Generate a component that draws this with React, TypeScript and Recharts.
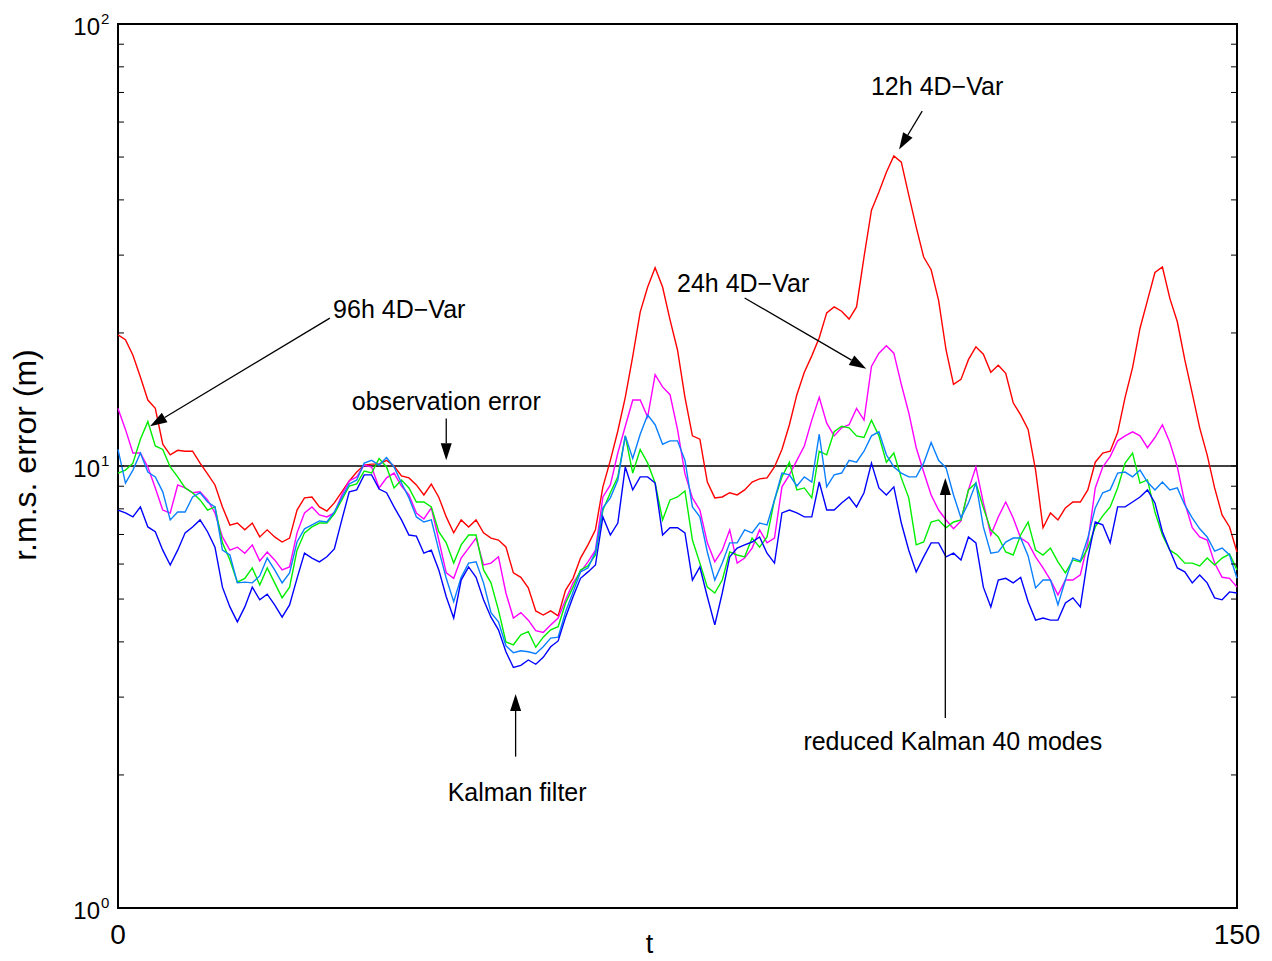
import React from 'react';
import {
  LineChart,
  Line,
  XAxis,
  YAxis,
  ReferenceLine,
  ReferenceDot,
  ReferenceArea
} from 'recharts';

const FONT = '"Liberation Sans", Arial, Helvetica, sans-serif';

// time axis: one sample per unit of t
const T_STEPS = Array.from({ length: 151 }, (_, i) => i);

// r.m.s. error (m) per scheme
const RMS_4DVAR_12H = [
  19.8, 19.3, 17.8, 15.9, 14.1, 13.5, 11.2, 10.6, 10.85, 10.8,
  10.8, 10.15, 9.6, 9.06, 8.08, 7.35, 7.43, 7.17, 7.43, 6.91,
  7.17, 6.91, 6.73, 6.87, 7.95, 8.47, 8.51, 8.08, 7.91, 8.25,
  8.74, 9.25, 9.69, 10.05, 10.1, 10.1, 10.3, 10.0, 9.5, 9.4,
  9.06, 8.6, 9.1, 8.5, 7.67, 7.06, 7.55, 7.28, 7.55, 7.06,
  6.87, 6.8, 6.56, 5.73, 5.6, 5.3, 4.7, 4.6, 4.7, 4.58,
  5.24, 5.57, 6.19, 6.63, 7.17, 8.97, 10.3, 12.0, 14.3, 17.7,
  22.3, 25.4, 28.1, 25.4, 21.4, 18.3, 14.3, 11.7, 11.5, 9.2,
  8.47, 8.51, 8.7, 8.6, 8.83, 9.2, 9.35, 9.4, 9.95, 10.9,
  12.4, 14.5, 16.3, 17.75, 19.5, 22.2, 22.9, 22.4, 21.5, 22.9,
  29.7, 37.9, 41.7, 46.2, 50.3, 48.7, 41.0, 34.7, 29.7, 27.8,
  23.7, 18.3, 15.3, 15.7, 17.4, 18.6, 17.9, 16.3, 16.9, 16.2,
  13.9, 13.05, 12.1, 9.79, 7.25, 7.83, 7.55, 8.04, 8.29, 8.29,
  8.83, 10.2, 10.7, 10.8, 11.9, 14.3, 16.7, 20.5, 23.7, 27.4,
  28.2, 23.95, 21.2, 17.4, 14.6, 12.2, 10.6, 8.92, 7.75, 7.28,
  6.39
];

const RMS_4DVAR_24H = [
  13.5, 12.1, 10.7, 10.7, 9.95, 8.92, 7.95, 7.83, 9.06, 8.92,
  8.7, 8.74, 8.38, 7.83, 6.91, 6.45, 6.55, 6.35, 6.63, 6.1,
  6.39, 6.13, 5.82, 5.91, 7.06, 7.83, 8.08, 7.75, 7.67, 7.83,
  8.6, 9.25, 9.45, 10.05, 9.95, 8.92, 9.4, 9.64, 9.01, 8.6,
  7.83, 7.59, 8.04, 6.8, 5.73, 5.57, 6.19, 6.52, 6.87, 5.97,
  6.03, 6.23, 5.16, 4.53, 4.66, 4.48, 4.24, 4.2, 4.37, 4.53,
  4.98, 5.44, 5.76, 6.07, 6.45, 8.51, 9.06, 10.7, 12.3, 14.1,
  14.1, 12.9, 16.1, 15.1, 14.5, 12.1, 9.6, 8.47, 7.95, 6.7,
  6.07, 6.45, 7.17, 6.03, 6.19, 6.52, 7.17, 6.7, 6.87, 8.97,
  9.55, 10.3, 11.1, 12.7, 14.3, 12.5, 11.7, 12.2, 12.4, 13.5,
  12.7, 16.8, 18.0, 18.7, 18.0, 15.3, 13.2, 11.0, 9.69, 8.6,
  7.95, 7.55, 7.21, 7.51, 8.83, 9.95, 8.25, 6.98, 7.67, 8.29,
  7.63, 6.87, 6.7, 6.23, 5.88, 5.52, 5.11, 5.52, 5.52, 5.67,
  6.7, 8.92, 9.95, 10.5, 11.4, 11.7, 11.95, 11.7, 11.0, 11.6,
  12.4, 11.3, 9.95, 8.25, 7.25, 6.91, 6.8, 6.03, 5.6, 5.57,
  5.32
];

const RMS_4DVAR_96H = [
  9.64, 9.79, 10.15, 11.5, 12.6, 11.1, 10.9, 9.95, 9.45, 8.92,
  8.7, 8.38, 7.95, 8.08, 6.7, 6.13, 5.46, 5.57, 5.88, 5.38,
  5.88, 5.44, 5.03, 5.32, 6.45, 7.06, 7.28, 7.43, 7.43, 7.79,
  8.38, 9.01, 9.11, 9.74, 9.64, 10.4, 9.95, 8.92, 9.3, 8.92,
  8.29, 8.29, 8.08, 7.1, 6.7, 6.03, 6.63, 6.98, 6.98, 5.82,
  5.44, 4.72, 4.0, 3.94, 4.15, 4.22, 3.89, 4.1, 4.26, 4.33,
  4.9, 5.32, 5.82, 5.94, 6.29, 7.95, 8.7, 9.45, 11.7, 9.64,
  10.9, 10.15, 9.15, 7.55, 8.38, 8.51, 8.78, 6.8, 6.03, 5.32,
  5.16, 5.52, 6.39, 6.29, 6.23, 6.87, 6.55, 6.91, 8.38, 9.45,
  10.2, 8.83, 8.92, 8.47, 10.8, 10.6, 11.95, 12.3, 12.2, 11.7,
  11.6, 12.7, 11.7, 10.2, 10.7, 9.4, 8.47, 6.63, 6.73, 7.47,
  7.55, 7.25, 7.47, 7.55, 8.83, 9.15, 8.04, 7.17, 6.91, 6.39,
  6.29, 6.98, 7.47, 6.45, 6.29, 6.52, 6.07, 5.73, 6.13, 6.07,
  6.52, 7.28, 7.71, 8.08, 8.92, 10.15, 10.7, 9.15, 9.3, 7.87,
  6.98, 6.45, 6.29, 6.03, 6.03, 5.94, 6.19, 5.97, 6.19, 6.32,
  5.82
];

const RMS_REDUCED_KF = [
  10.9, 9.15, 9.79, 10.7, 9.69, 9.45, 8.74, 7.55, 7.87, 7.87,
  8.51, 8.7, 8.29, 8.08, 6.45, 6.29, 5.44, 5.46, 5.44, 5.64,
  6.19, 5.82, 5.44, 5.73, 6.73, 7.21, 7.36, 7.51, 7.47, 7.87,
  8.47, 9.11, 9.3, 10.15, 10.3, 10.05, 10.45, 9.95, 9.15, 8.47,
  7.67, 7.47, 7.55, 6.45, 5.57, 4.93, 5.6, 6.03, 6.07, 5.44,
  4.66, 4.44, 3.92, 3.78, 3.82, 3.8, 3.76, 3.9, 4.08, 4.1,
  4.68, 5.19, 5.76, 5.88, 6.39, 8.04, 8.47, 9.3, 11.7, 10.4,
  11.8, 13.05, 12.4, 11.2, 11.4, 11.4, 10.3, 8.08, 7.67, 6.39,
  5.52, 6.03, 6.7, 6.7, 7.17, 7.06, 7.43, 7.36, 8.38, 9.64,
  9.55, 9.01, 9.45, 9.2, 11.8, 8.97, 9.55, 9.64, 10.3, 10.2,
  10.8, 11.7, 11.95, 10.6, 9.95, 9.64, 9.45, 9.45, 10.15, 11.3,
  10.3, 9.9, 8.6, 7.63, 8.25, 9.15, 7.28, 6.35, 6.39, 6.73,
  6.87, 6.87, 6.26, 5.3, 5.52, 5.52, 4.85, 5.52, 6.19, 6.1,
  6.87, 8.04, 8.7, 8.83, 9.64, 9.69, 9.45, 9.79, 9.2, 8.83,
  9.2, 8.83, 8.92, 8.16, 7.63, 7.21, 6.91, 6.42, 6.52, 6.29,
  5.57
];

const RMS_KALMAN = [
  7.95, 7.83, 7.67, 8.08, 7.28, 7.1, 6.45, 5.97, 6.45, 7.06,
  7.28, 7.55, 7.1, 6.55, 5.32, 4.8, 4.44, 4.8, 5.32, 4.98,
  5.13, 4.85, 4.55, 4.85, 5.57, 6.35, 6.19, 6.07, 6.23, 6.49,
  7.55, 8.74, 8.83, 9.55, 9.55, 8.87, 8.7, 8.08, 7.55, 6.98,
  6.94, 6.35, 6.45, 5.82, 5.06, 4.53, 5.52, 5.91, 5.6, 4.98,
  4.55, 4.26, 3.8, 3.5, 3.54, 3.64, 3.56, 3.69, 3.9, 4.02,
  4.55, 5.06, 5.57, 5.76, 5.97, 7.67, 6.98, 7.43, 9.95, 8.83,
  9.45, 9.45, 9.15, 6.98, 7.25, 7.25, 7.06, 5.52, 5.91, 5.06,
  4.37, 5.16, 6.23, 6.52, 6.63, 6.73, 6.91, 6.35, 6.03, 7.83,
  7.95, 7.83, 7.67, 7.67, 9.2, 7.95, 7.95, 8.25, 8.51, 8.08,
  8.7, 10.15, 8.92, 8.6, 8.97, 7.43, 6.45, 5.76, 6.23, 6.7,
  6.7, 6.23, 6.35, 6.13, 6.91, 6.7, 5.32, 4.8, 5.52, 5.57,
  5.44, 5.6, 4.93, 4.48, 4.53, 4.48, 4.48, 4.9, 5.03, 4.8,
  6.19, 7.47, 7.36, 6.7, 8.08, 8.08, 8.29, 8.51, 8.83, 8.25,
  7.1, 6.45, 5.88, 5.76, 5.44, 5.67, 5.44, 5.03, 4.98, 5.19,
  5.16
];

const OBS_ERROR = 10;

const X_TICKS = [0, 150];
const Y_TICKS = [1, 2, 3, 4, 5, 6, 7, 8, 9, 10, 20, 30, 40, 50, 60, 70, 80, 90, 100];

const SERIES = [
  { key: 'h12', color: '#ff0000' },
  { key: 'h24', color: '#ff00ff' },
  { key: 'h96', color: '#00ee00' },
  { key: 'rkf', color: '#0a80ff' },
  { key: 'kf', color: '#0000ff' }
];

// annotation text placed at `at`, arrow drawn from `from` to `to` (t, rms)
const NOTES = [
  { text: '12h 4D\u2212Var', at: [109.8, 72.5], from: [107.8, 63.5], to: [104.7, 52] },
  { text: '24h 4D\u2212Var', at: [83.8, 25.9], from: [84.0, 24.0], to: [100.3, 16.6] },
  { text: '96h 4D\u2212Var', at: [37.7, 22.7], from: [28.4, 21.6], to: [4.3, 12.3] },
  { text: 'observation error', at: [44.0, 14.0], from: [44.0, 12.8], to: [44.0, 10.3] },
  { text: 'Kalman filter', at: [53.5, 1.83], from: [53.3, 2.2], to: [53.3, 3.05] },
  { text: 'reduced Kalman 40 modes', at: [111.9, 2.39], from: [110.9, 2.69], to: [110.9, 9.4] }
];

const rows = T_STEPS.map((t, i) => ({
  t,
  h12: RMS_4DVAR_12H[i],
  h24: RMS_4DVAR_24H[i],
  h96: RMS_4DVAR_96H[i],
  rkf: RMS_REDUCED_KF[i],
  kf: RMS_KALMAN[i]
}));

const isDecade = (v: number) => Math.abs(Math.log10(v) - Math.round(Math.log10(v))) < 1e-9;

const LeftTick = ({ x, y, payload }: any) => {
  const v = payload.value;
  return (
    <g>
      <line x1={x} y1={y} x2={x + 6} y2={y} stroke="#000" strokeWidth={1} />
      {isDecade(v) && (
        <>
          <text x={x - 18} y={y + 11} textAnchor="end" fontSize={24} fontFamily={FONT} fill="#000">
            10
          </text>
          <text x={x - 17} y={y} textAnchor="start" fontSize={15} fontFamily={FONT} fill="#000">
            {Math.round(Math.log10(v))}
          </text>
        </>
      )}
    </g>
  );
};

const RightTick = ({ x, y }: any) => (
  <line x1={x} y1={y} x2={x - 6} y2={y} stroke="#000" strokeWidth={1} />
);

const BottomTick = ({ x, y, payload }: any) => (
  <text x={x} y={y + 36} textAnchor="middle" fontSize={28} fontFamily={FONT} fill="#000">
    {payload.value}
  </text>
);

// straight line with a filled arrowhead at (x2, y2)
const Arrow = ({ x1, y1, x2, y2 }: any) => {
  const dx = x2 - x1;
  const dy = y2 - y1;
  const len = Math.hypot(dx, dy) || 1;
  const ux = dx / len;
  const uy = dy / len;
  const head = 17;
  const half = 5.5;
  const bx = x2 - ux * head;
  const by = y2 - uy * head;
  const pts = `${x2},${y2} ${bx - uy * half},${by + ux * half} ${bx + uy * half},${by - ux * half}`;
  return (
    <g>
      <line x1={x1} y1={y1} x2={bx} y2={by} stroke="#000" strokeWidth={1.3} />
      <polygon points={pts} fill="#000" />
    </g>
  );
};

const NoteText = (text: string) => (p: any) => (
  <text
    x={p.cx}
    y={p.cy}
    textAnchor="middle"
    dominantBaseline="central"
    fontSize={25}
    fontFamily={FONT}
    fill="#000"
  >
    {text}
  </text>
);

export default function App() {
  return (
    <div style={{ position: 'absolute', left: 0, top: 0, background: '#fff' }}>
      <LineChart
        width={1272}
        height={961}
        data={rows}
        margin={{ top: 24, right: 0, bottom: 0, left: 58 }}
      >
        <XAxis
          dataKey="t"
          type="number"
          domain={[0, 150]}
          ticks={X_TICKS}
          interval={0}
          height={53}
          axisLine={false}
          tickLine={false}
          tickSize={0}
          tickMargin={0}
          tick={<BottomTick />}
          label={{
            content: (p: any) => (
              <text
                x={p.viewBox.x + p.viewBox.width / 2 - 28}
                y={p.viewBox.y + 45}
                textAnchor="middle"
                fontSize={27}
                fontFamily={FONT}
                fill="#000"
              >
                t
              </text>
            )
          }}
        />
        <YAxis
          type="number"
          scale="log"
          domain={[1, 100]}
          allowDataOverflow
          ticks={Y_TICKS}
          interval={0}
          width={60}
          axisLine={false}
          tickLine={false}
          tickSize={0}
          tickMargin={0}
          tick={<LeftTick />}
          label={{
            content: (p: any) => (
              <text
                transform={`translate(${p.viewBox.x - 22},${p.viewBox.y + p.viewBox.height / 2 - 11}) rotate(-90)`}
                textAnchor="middle"
                fontSize={32}
                fontFamily={FONT}
                fill="#000"
              >
                r.m.s. error (m)
              </text>
            )
          }}
        />
        <YAxis
          yAxisId="right"
          orientation="right"
          type="number"
          scale="log"
          domain={[1, 100]}
          allowDataOverflow
          ticks={Y_TICKS}
          interval={0}
          width={35}
          axisLine={false}
          tickLine={false}
          tickSize={0}
          tickMargin={0}
          tick={<RightTick />}
        />

        <ReferenceLine y={OBS_ERROR} stroke="#000" strokeWidth={1.3} />

        {SERIES.map((s) => (
          <Line
            key={s.key}
            dataKey={s.key}
            type="linear"
            stroke={s.color}
            strokeWidth={1.4}
            dot={false}
            activeDot={false}
            isAnimationActive={false}
          />
        ))}

        {NOTES.map((n) => (
          <ReferenceLine
            key={`arrow-${n.text}`}
            segment={[
              { x: n.from[0], y: n.from[1] },
              { x: n.to[0], y: n.to[1] }
            ]}
            ifOverflow="visible"
            shape={(p: any) => <Arrow {...p} />}
          />
        ))}
        {NOTES.map((n) => (
          <ReferenceDot
            key={`text-${n.text}`}
            x={n.at[0]}
            y={n.at[1]}
            r={0}
            ifOverflow="visible"
            shape={NoteText(n.text)}
          />
        ))}

        <ReferenceArea
          x1={0}
          x2={150}
          y1={1}
          y2={100}
          fill="none"
          fillOpacity={0}
          stroke="#000"
          strokeWidth={2}
          ifOverflow="visible"
        />
      </LineChart>
    </div>
  );
}
